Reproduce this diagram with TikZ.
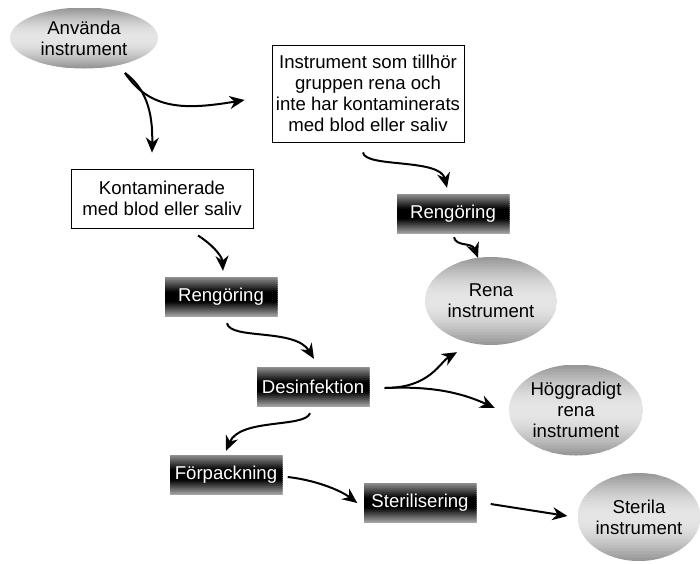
\documentclass[tikz,border=0pt]{standalone}
\usepackage{fontspec}
\setmainfont{Liberation Sans}
\usetikzlibrary{shapes.geometric,arrows.meta,calc}
\newcommand{\bandfill}[1]{%
  \path (path picture bounding box.north west) coordinate (ppnw)
        (path picture bounding box.south east) coordinate (ppse);
  \foreach \i in {0,...,59}{%
    \pgfmathsetmacro\f{(\i+0.5)/60}%
    \pgfmathsetmacro\g{#1}%
    \definecolor{bandc}{gray}{\g}%
    \fill[bandc] ($(ppnw)!{\i/60}!(ppnw|-ppse)$) rectangle ($(ppse|-ppnw)!{min(1,(\i+1.1)/60)}!(ppse)$);
  }%
}
\begin{document}
\begin{tikzpicture}[x=1pt,y=-1pt,
  txt/.style={font=\fontsize{18.6}{21}\selectfont, align=center, inner sep=0pt},
  whitebox/.style={txt, draw=black, line width=0.9pt, fill=white},
  darkbox/.style={txt, text=white, minimum width=113pt, minimum height=40pt,
    path picture={\bandfill{max(0,0.58*(1-\f/0.38))+max(0,0.66*(\f-0.62)/0.38)}}},
  grayell/.style={txt, ellipse,
    path picture={\bandfill{0.58+0.32*sin(180*\f)}}},
  arr/.style={line width=2pt, -{Stealth[length=15pt,width=13pt]}}
]
\useasboundingbox (0,0) rectangle (700,563);
\fill[white] (0,0) rectangle (700,563);

% nodes
\node[grayell, minimum width=148pt, minimum height=61pt] (anv) at (84,38) {Använda\\instrument};
\node[whitebox, minimum width=192pt, minimum height=97pt] (inst) at (368,93.5) {Instrument som tillhör\\gruppen rena och\\inte har kontaminerats\\med blod eller saliv};
\node[whitebox, minimum width=182pt, minimum height=59pt] (kont) at (162,198.5) {Kontaminerade\\med blod eller saliv};
\node[darkbox] (reng2) at (453,214) {Rengöring};
\node[grayell, minimum width=132pt, minimum height=88pt] (rena) at (491,301) {Rena\\instrument};
\node[darkbox] (reng1) at (221,297) {Rengöring};
\node[darkbox] (des) at (313,387) {Desinfektion};
\node[grayell, minimum width=134pt, minimum height=91pt] (hog) at (576,410) {Höggradigt\\rena\\instrument};
\node[darkbox] (forp) at (226,475) {Förpackning};
\node[darkbox] (ster) at (420,503) {Sterilisering};
\node[grayell, minimum width=122pt, minimum height=88pt] (sterila) at (639,517) {Sterila\\instrument};

% connector end points
\coordinate (s1) at (125,73);
\coordinate (t1a) at ([xshift=-10pt,yshift=16pt]kont.north);
\coordinate (t1b) at ([xshift=-27pt,yshift=-6.5pt]inst.west);
\coordinate (s2) at ([xshift=-5pt,yshift=-10pt]inst.south);
\coordinate (t2) at ([xshift=-6pt,yshift=6pt]reng2.north);
\coordinate (s3) at ([xshift=1pt,yshift=-3pt]reng2.south);
\coordinate (t3) at ([xshift=-13pt,yshift=-1pt]rena.north);
\coordinate (s4) at ([xshift=36pt,yshift=-7pt]kont.south);
\coordinate (t4) at ([xshift=2pt,yshift=6pt]reng1.north);
\coordinate (s5) at ([xshift=6pt,yshift=-6pt]reng1.south);
\coordinate (t5) at ([xshift=1pt,yshift=8pt]des.north);
\coordinate (s6) at ([xshift=15pt,yshift=-1pt]des.east);
\coordinate (t6a) at ([xshift=-34pt,yshift=-7pt]rena.south);
\coordinate (t6b) at ([xshift=-14pt,yshift=2pt]hog.west);
\coordinate (s7) at ([xshift=-3pt,yshift=-6pt]des.south);
\coordinate (t7) at ([xshift=0pt,yshift=4pt]forp.north);
\coordinate (s8) at ([xshift=5pt,yshift=-2pt]forp.east);
\coordinate (t8) at ([xshift=-6pt,yshift=0pt]ster.west);
\coordinate (s9) at ([xshift=14pt,yshift=-1pt]ster.east);
\coordinate (t9) at ([xshift=-10pt,yshift=1pt]sterila.west);

% connectors
\draw[arr] (s1) .. controls (145,88) and (153,110) .. (t1a);
\draw[arr] (s1) .. controls (150,110) and (185,110) .. (t1b);
\draw[arr] (s2) .. controls (365,168) and (440,158) .. (t2);
\draw[arr] (s3) .. controls (456,247) and (472,242) .. (t3);
\draw[arr] (s4) .. controls (210,243) and (222,255) .. (t4);
\draw[arr] (s5) .. controls (230,340) and (295,328) .. (t5);
\draw[arr] (s6) .. controls (430,388) and (440,362) .. (t6a);
\draw[arr] (s6) .. controls (430,386) and (460,392) .. (t6b);
\draw[arr] (s7) .. controls (305,428) and (240,418) .. (t7);
\draw[arr] (s8) .. controls (315,480) and (340,490) .. (t8);
\draw[arr] (s9) -- (t9);
\end{tikzpicture}
\end{document}
